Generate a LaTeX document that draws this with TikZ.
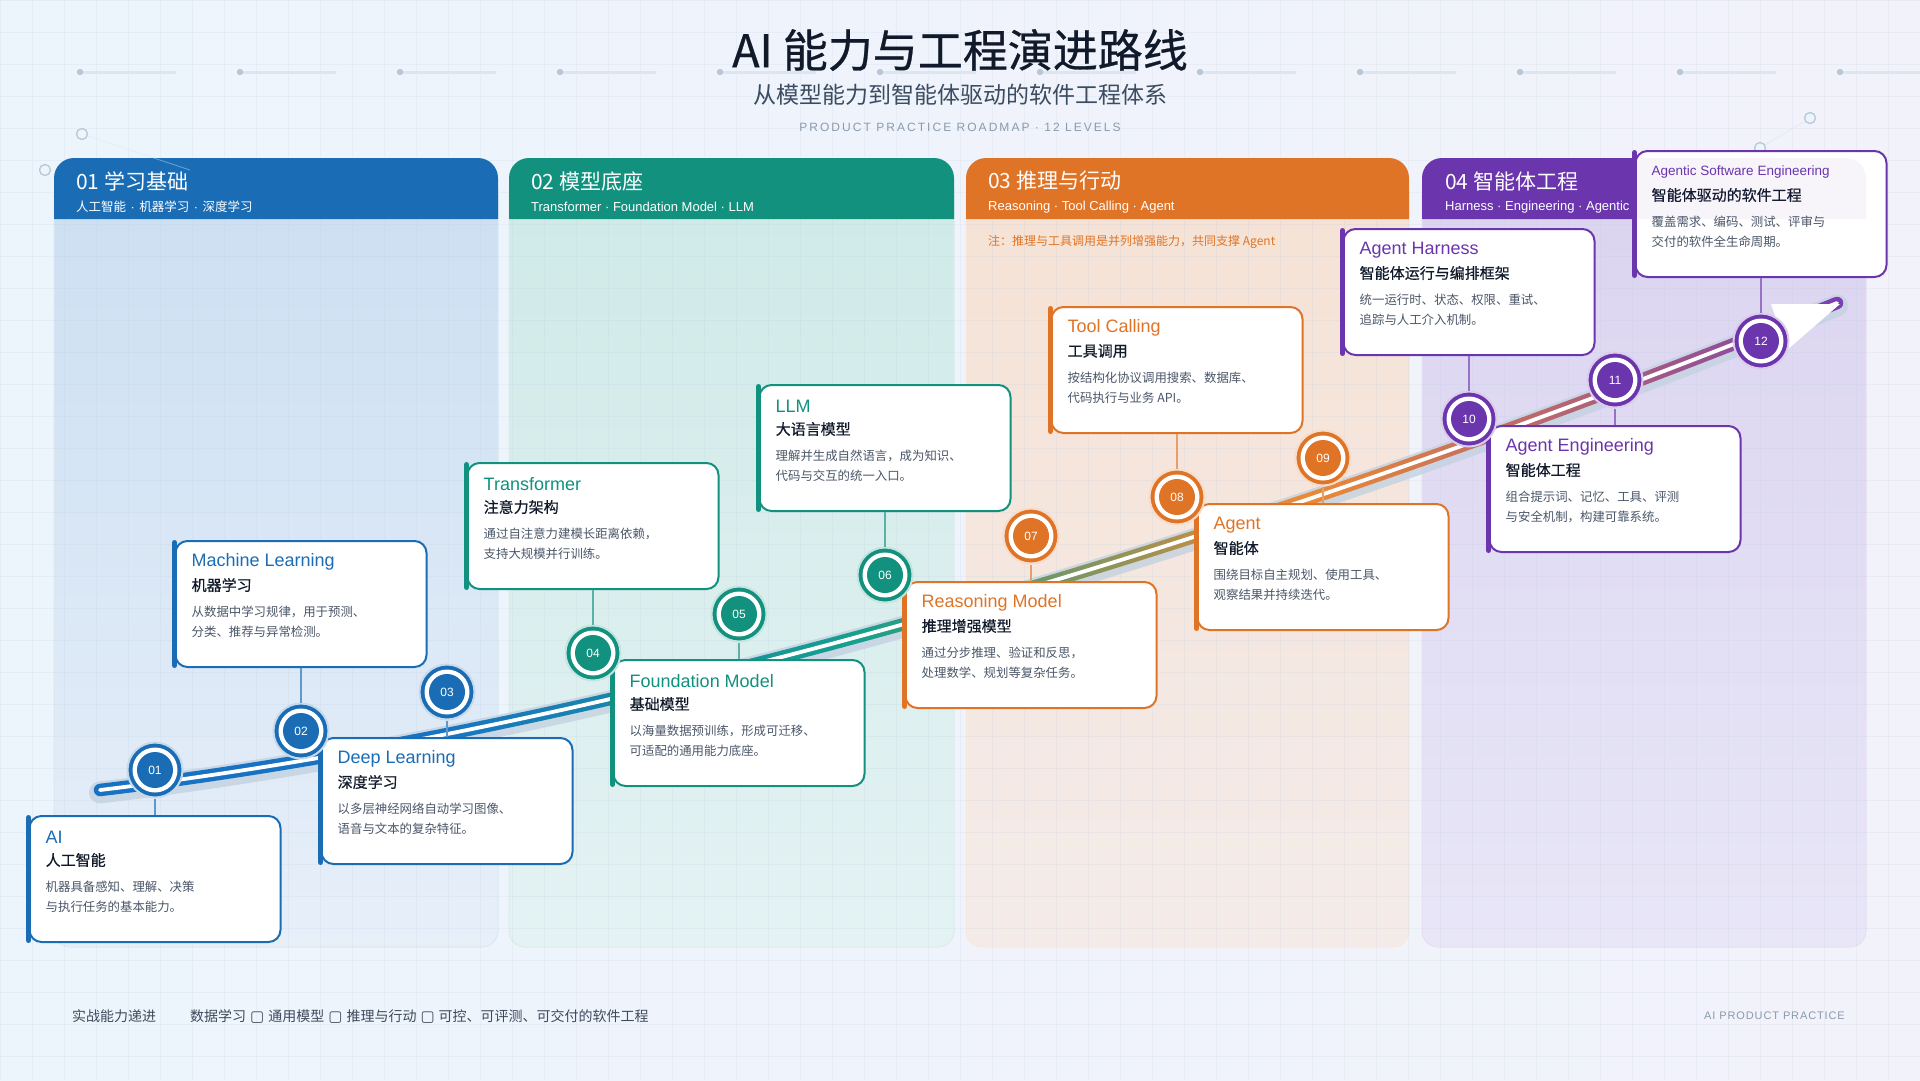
\documentclass[tikz,border=0pt]{standalone}
\usepackage{fontspec}
\setmainfont{Noto Sans CJK SC}
\newfontfamily\cjk{Noto Sans CJK SC}
\newfontfamily\cjkm{Noto Sans CJK SC}[FakeBold=0.5]
\newfontfamily\lat{Liberation Sans}
\newfontfamily\latsp{Liberation Sans}[LetterSpace=17]
\newfontfamily\latspb{Liberation Sans}[LetterSpace=8]
\newfontfamily\titlef{Noto Sans CJK SC}[FakeBold=0.6]
\newfontfamily\dv{DejaVu Sans}
\usetikzlibrary{calc}

\definecolor{cBlue}{HTML}{1A6DB4}
\definecolor{cTeal}{HTML}{12917E}
\definecolor{cOrange}{HTML}{E07426}
\definecolor{cPurple}{HTML}{6A35AD}
\definecolor{tBlue}{HTML}{1872C4}
\definecolor{tTeal}{HTML}{17A08C}
\definecolor{tOrange}{HTML}{EC8A33}
\definecolor{tPurple}{HTML}{7A3FB3}
\definecolor{ink}{HTML}{111A2B}
\definecolor{desc}{HTML}{4A5668}
\definecolor{subc}{HTML}{3C4C60}
\definecolor{mute}{HTML}{8A9AAC}
\definecolor{footc}{HTML}{3D4A5C}
\definecolor{bgA}{HTML}{EDF5FC}
\definecolor{bgB}{HTML}{F2F2FB}
\definecolor{gridc}{HTML}{B9C9DA}
\definecolor{dotc}{HTML}{B7C7D7}
\definecolor{dashc}{HTML}{DCE6F0}
\definecolor{haloc}{HTML}{C4D2E0}
\definecolor{pAtop}{HTML}{CCDFF2}
\definecolor{pAbot}{HTML}{E7EFF9}
\definecolor{pBtop}{HTML}{CFEAE8}
\definecolor{pBbot}{HTML}{E4F2F3}
\definecolor{pCtop}{HTML}{F5E2D5}
\definecolor{pCbot}{HTML}{F4EBE9}
\definecolor{pDtop}{HTML}{DBD4F0}
\definecolor{pDbot}{HTML}{E8E6F7}

\newcommand{\fs}[2]{\fontsize{#1}{#2}\selectfont}
\newcommand{\trk}{(100,790) .. controls (600,730) and (1200,560) .. (1837,303)}
\newcommand{\tofu}{\hspace{4pt}{\dv\fs{15}{16}▢}\hspace{4pt}}
\newcommand{\sdot}{\hspace{4.5pt}{\lat ·}\hspace{4.5pt}}

\tikzset{
  card/.style={rectangle, draw=#1, line width=2pt, fill=white, rounded corners=12pt,
    minimum width=251pt, minimum height=126pt, inner sep=0pt},
  mile/.style={circle, inner sep=0pt, minimum size=55pt, fill=#1, draw=#1!25, line width=2pt,
    text=white, font=\lat\fs{12}{14},
    path picture={\fill[white] (path picture bounding box.center) circle[radius=22.5pt];
                  \fill[#1] (path picture bounding box.center) circle[radius=18pt];}},
  stem/.style={draw=#1!70, line width=1.6pt},
  entitle/.style={anchor=west, inner sep=0pt, text=#1, font=\lat\fs{18}{20}},
  zhtitle/.style={anchor=west, inner sep=0pt, text=ink, font=\cjkm\fs{15}{18}},
  desctext/.style={anchor=west, inner sep=0pt, text=desc, font=\cjk\fs{12.4}{14}},
  hdtitle/.style={anchor=west, inner sep=0pt, text=white, font=\cjk\fs{21}{24}},
  hdsubzh/.style={anchor=west, inner sep=0pt, text=white, font=\cjk\fs{12.5}{15}},
  hdsuben/.style={anchor=west, inner sep=0pt, text=white, font=\lat\fs{13}{15}},
  gridline/.style={draw=gridc, line width=0.8pt, opacity=0.16},
  decocirc/.style={draw=dotc, line width=1.3pt, fill=bgA},
}

\newcommand{\rmcard}[8]{%
  \node[card=#2] (c#1) at (#3,#4) {};
  \draw[#2, line width=5pt, line cap=round] ([yshift=-2.5pt]c#1.north west) -- ([yshift=2.5pt]c#1.south west);
  \node[entitle=#2] (c#1en) at ($(c#1.north west)+(17,22)$) {#5};
  \node[zhtitle] (c#1zh) at ($(c#1.north west)+(17,45)$) {#6};
  \node[desctext] (c#1da) at ($(c#1.north west)+(17,72)$) {#7};
  \node[desctext] (c#1db) at ($(c#1.north west)+(17,92)$) {#8};
}
\newcommand{\rmpanel}[5]{% L, R, color, top, bottom
  \shade[top color=#4, bottom color=#5] (#1,190) [rounded corners=16pt] -- (#1,947) -- (#2,947) [sharp corners] -- (#2,190) -- cycle;
  \draw[#3!16, line width=1pt] (#1,190) [rounded corners=16pt] -- (#1,947) -- (#2,947) [sharp corners] -- (#2,190);
}
\newcommand{\rmheader}[3]{%
  \fill[#3] (#1,219) [rounded corners=20pt] -- (#1,158) -- (#2,158) [sharp corners] -- (#2,219) -- cycle;
}

\begin{document}
\begin{tikzpicture}[x=1pt, y=-1pt]
\useasboundingbox (0,0) rectangle (1920,1080);
\shade[left color=bgA, right color=bgB] (0,0) rectangle (1920,1080);

% panel bodies
\rmpanel{54}{498}{cBlue}{pAtop}{pAbot}
\rmpanel{509}{954}{cTeal}{pBtop}{pBbot}
\rmpanel{966}{1409}{cOrange}{pCtop}{pCbot}
\rmpanel{1422}{1866}{cPurple}{pDtop}{pDbot}

% grid
\foreach \gx in {0,32,...,1920} {\draw[gridline] (\gx,0) -- (\gx,1080);}
\foreach \gy in {0,32,...,1080} {\draw[gridline] (0,\gy) -- (1920,\gy);}

% headers
\rmheader{54}{498}{cBlue}
\rmheader{509}{954}{cTeal}
\rmheader{966}{1409}{cOrange}
\rmheader{1422}{1866}{cPurple}
\node[hdtitle] (h1) at (76,181) {01 学习基础};
\node[hdsubzh] (h1s) at (76,207) {人工智能{\sdot}机器学习{\sdot}深度学习};
\node[hdtitle] (h2) at (531,181) {02 模型底座};
\node[hdsuben] (h2s) at (531,207) {Transformer · Foundation Model · LLM};
\node[hdtitle] (h3) at (988,181) {03 推理与行动};
\node[hdsuben] (h3s) at (988,207) {Reasoning · Tool Calling · Agent};
\node[hdtitle] (h4) at (1445,181) {04 智能体工程};
\node[hdsuben] (h4s) at (1445,207) {Harness · Engineering · Agentic Software Engineering};

% decorative dots row
\foreach \k in {0,...,11} {
  \draw[dashc, line width=3pt, line cap=round] ({80+160*\k},72) -- ({175+160*\k},72);
  \fill[dotc] ({80+160*\k},72) circle[radius=3.2pt];
}
\draw[dashc, line width=0.8pt, opacity=.45] (82,134) -- (190,170);
\draw[dashc, line width=0.8pt, opacity=.7] (1810,118) -- (1760,148);
\draw[decocirc] (82,134) circle[radius=5.5pt];
\draw[decocirc] (45,170) circle[radius=5.5pt];
\draw[decocirc] (1810,118) circle[radius=5.5pt];
\draw[decocirc] (1760,148) circle[radius=5.5pt];

% titles
\node[font=\titlef\fs{45}{50}, text=ink, inner sep=0pt] (title) at (960,50) {AI 能力与工程演进路线};
\node[font=\cjk\fs{23}{26}, text=subc, inner sep=0pt] (subtitle) at (960,95) {从模型能力到智能体驱动的软件工程体系};
\node[font=\latsp\fs{12}{14}, text=mute, inner sep=0pt] (tagline) at (960,127) {PRODUCT PRACTICE ROADMAP · 12 LEVELS};

\node[anchor=west, inner sep=0pt, font=\cjk\fs{12}{14}, text=cOrange] (note) at (988,242) {注：推理与工具调用是并列增强能力，共同支撑 Agent};

% footer
\node[anchor=west, inner sep=0pt, font=\cjk\fs{14}{16}, text=footc] (foot1) at (72,1016) {实战能力递进};
\node[anchor=west, inner sep=0pt, font=\cjk\fs{14}{16}, text=footc] (foot2) at (190,1016) {数据学习{\tofu}通用模型{\tofu}推理与行动{\tofu}可控、可评测、可交付的软件工程};
\node[anchor=east, inner sep=0pt, font=\latspb\fs{11}{13}, text=mute] (foot3) at (1845,1016) {AI PRODUCT PRACTICE};

% track
\begin{scope}[yshift=-2.5pt]
  \draw[haloc, line width=22pt, line cap=round, opacity=.8] \trk;
\end{scope}
\foreach \i in {0,...,177} {
  \pgfmathsetmacro{\xa}{82+10*\i}
  \pgfmathsetmacro{\xm}{\xa+5}
  \pgfmathtruncatemacro{\mixa}{max(0,min(100,(\xm-420)/4.4))}
  \pgfmathtruncatemacro{\mixb}{max(0,min(100,(\xm-860)/4.4))}
  \pgfmathtruncatemacro{\mixc}{max(0,min(100,(\xm-1300)/5.37))}
  \colorlet{trkc}{tTeal!\mixa!tBlue}
  \colorlet{trkc}{tOrange!\mixb!trkc}
  \colorlet{trkc}{tPurple!\mixc!trkc}
  \begin{scope}
    \clip ({\xa-0.4},200) rectangle ({\xa+10.4},830);
    \draw[trkc, line width=12.5pt, line cap=round] \trk;
  \end{scope}
}
\draw[white, line width=3.8pt, line cap=round] \trk;
\fill[white] (1771,304) -- (1840,304) -- (1787,350) -- cycle;

% cards
\rmcard{01}{cBlue}{155}{879}{AI}{人工智能}{机器具备感知、理解、决策}{与执行任务的基本能力。}
\rmcard{02}{cBlue}{301}{604}{Machine Learning}{机器学习}{从数据中学习规律，用于预测、}{分类、推荐与异常检测。}
\rmcard{03}{cBlue}{447}{801}{Deep Learning}{深度学习}{以多层神经网络自动学习图像、}{语音与文本的复杂特征。}
\rmcard{04}{cTeal}{593}{526}{Transformer}{注意力架构}{通过自注意力建模长距离依赖，}{支持大规模并行训练。}
\rmcard{05}{cTeal}{739}{723}{Foundation Model}{基础模型}{以海量数据预训练，形成可迁移、}{可适配的通用能力底座。}
\rmcard{06}{cTeal}{885}{448}{LLM}{大语言模型}{理解并生成自然语言，成为知识、}{代码与交互的统一入口。}
\rmcard{07}{cOrange}{1031}{645}{Reasoning Model}{推理增强模型}{通过分步推理、验证和反思，}{处理数学、规划等复杂任务。}
\rmcard{08}{cOrange}{1177}{370}{Tool Calling}{工具调用}{按结构化协议调用搜索、数据库、}{代码执行与业务 API。}
\rmcard{09}{cOrange}{1323}{567}{Agent}{智能体}{围绕目标自主规划、使用工具、}{观察结果并持续迭代。}
\rmcard{10}{cPurple}{1469}{292}{Agent Harness}{智能体运行与编排框架}{统一运行时、状态、权限、重试、}{追踪与人工介入机制。}
\rmcard{11}{cPurple}{1615}{489}{Agent Engineering}{智能体工程}{组合提示词、记忆、工具、评测}{与安全机制，构建可靠系统。}
\rmcard{12}{cPurple}{1761}{214}{{\fs{13.5}{16}Agentic Software Engineering}}{智能体驱动的软件工程}{覆盖需求、编码、测试、评审与}{交付的软件全生命周期。}
\begin{scope}
  \clip[rounded corners=12pt] (1637,151) rectangle (1886,277);
  \fill[cPurple, opacity=.05] (1422,219) [rounded corners=20pt] -- (1422,158) -- (1866,158) [sharp corners] -- (1866,219) -- cycle;
\end{scope}

% milestones
\node[mile=cBlue] (m01) at (155,770) {01};
\node[mile=cBlue] (m02) at (301,731) {02};
\node[mile=cBlue] (m03) at (447,692) {03};
\node[mile=cTeal] (m04) at (593,653) {04};
\node[mile=cTeal] (m05) at (739,614) {05};
\node[mile=cTeal] (m06) at (885,575) {06};
\node[mile=cOrange] (m07) at (1031,536) {07};
\node[mile=cOrange] (m08) at (1177,497) {08};
\node[mile=cOrange] (m09) at (1323,458) {09};
\node[mile=cPurple] (m10) at (1469,419) {10};
\node[mile=cPurple] (m11) at (1615,380) {11};
\node[mile=cPurple] (m12) at (1761,341) {12};

% stems
\draw[stem=cBlue] (m01) -- (c01);
\draw[stem=cBlue] (m02) -- (c02);
\draw[stem=cBlue] (m03) -- (c03);
\draw[stem=cTeal] (m04) -- (c04);
\draw[stem=cTeal] (m05) -- (c05);
\draw[stem=cTeal] (m06) -- (c06);
\draw[stem=cOrange] (m07) -- (c07);
\draw[stem=cOrange] (m08) -- (c08);
\draw[stem=cOrange] (m09) -- (c09);
\draw[stem=cPurple] (m10) -- (c10);
\draw[stem=cPurple] (m11) -- (c11);
\draw[stem=cPurple] (m12) -- (c12);
\end{tikzpicture}
\end{document}
